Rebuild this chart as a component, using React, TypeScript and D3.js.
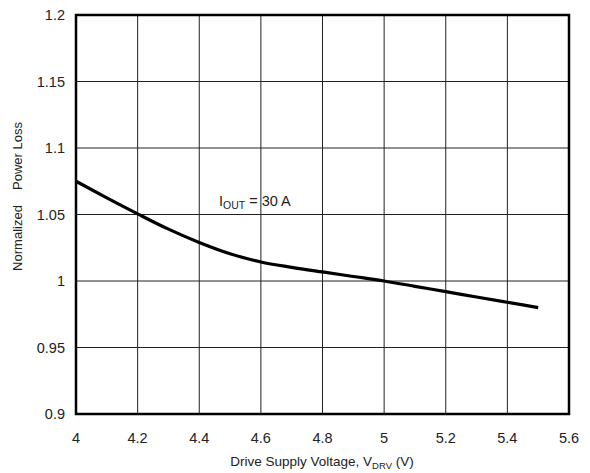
import React from "react";
import * as d3 from "d3";

const xTicks = [4, 4.2, 4.4, 4.6, 4.8, 5, 5.2, 5.4, 5.6];
const yTicks = [0.9, 0.95, 1, 1.05, 1.1, 1.15, 1.2];
const yTickLabels = ["0.9", "0.95", "1", "1.05", "1.1", "1.15", "1.2"];
const voltage = [4.0, 4.1, 4.2, 4.3, 4.4, 4.5, 4.6, 4.7, 4.8, 4.9, 5.0, 5.1, 5.2, 5.3, 5.4, 5.5];
const powerLoss = [1.075, 1.0625, 1.0505, 1.039, 1.029, 1.0205, 1.0143, 1.0103, 1.0068, 1.0034, 1.0, 0.996, 0.992, 0.988, 0.984, 0.98];

const font = "'Liberation Sans', Arial, Helvetica, sans-serif";

export default function App() {
  const W = 590, H = 473;
  const left = 76, right = 569, top = 15, bottom = 414;
  const x = d3.scaleLinear().domain([4, 5.6]).range([left, right]);
  const y = d3.scaleLinear().domain([0.9, 1.2]).range([bottom, top]);
  const line = d3
    .line<number>()
    .x((_, i) => x(voltage[i]))
    .y((d) => y(d))
    .curve(d3.curveMonotoneX);

  return (
    <svg width={W} height={H} style={{ position: "absolute", left: 0, top: 0, background: "#fff" }} fontFamily={font}>
      <rect width={W} height={H} fill="#fff" />
      {xTicks.slice(1, -1).map((t) => (
        <line key={"gx" + t} x1={x(t)} x2={x(t)} y1={top} y2={bottom} stroke="#222" strokeWidth={1} />
      ))}
      {yTicks.slice(1, -1).map((t) => (
        <line key={"gy" + t} x1={left} x2={right} y1={y(t)} y2={y(t)} stroke="#222" strokeWidth={1} />
      ))}
      <rect x={left} y={top} width={right - left} height={bottom - top} fill="none" stroke="#000" strokeWidth={2.5} />
      <path d={line(powerLoss) || ""} fill="none" stroke="#000" strokeWidth={3.2} strokeLinejoin="round" />
      {xTicks.map((t) => (
        <text key={"tx" + t} x={x(t)} y={443} textAnchor="middle" fontSize={14.5} fill="#222">
          {String(t)}
        </text>
      ))}
      {yTicks.map((t, i) => (
        <text key={"ty" + t} x={65} y={y(t) + 5} textAnchor="end" fontSize={14.5} fill="#222">
          {yTickLabels[i]}
        </text>
      ))}
      <text x={322} y={466} textAnchor="middle" fontSize={13.5} fill="#222">
        Drive Supply Voltage, V<tspan fontSize={9.5} dy={3}>DRV</tspan>
        <tspan dy={-3}> (V)</tspan>
      </text>
      <text transform="translate(22,238) rotate(-90)" textAnchor="middle" fontSize={13} fill="#222">
        Normalized
      </text>
      <text transform="translate(22,156) rotate(-90)" textAnchor="middle" fontSize={13} fill="#222">
        Power Loss
      </text>
      <text x={219} y={206} fontSize={14.5} fill="#222">
        I<tspan fontSize={10.5} dy={3}>OUT</tspan>
        <tspan dy={-3}> = 30 A</tspan>
      </text>
    </svg>
  );
}
